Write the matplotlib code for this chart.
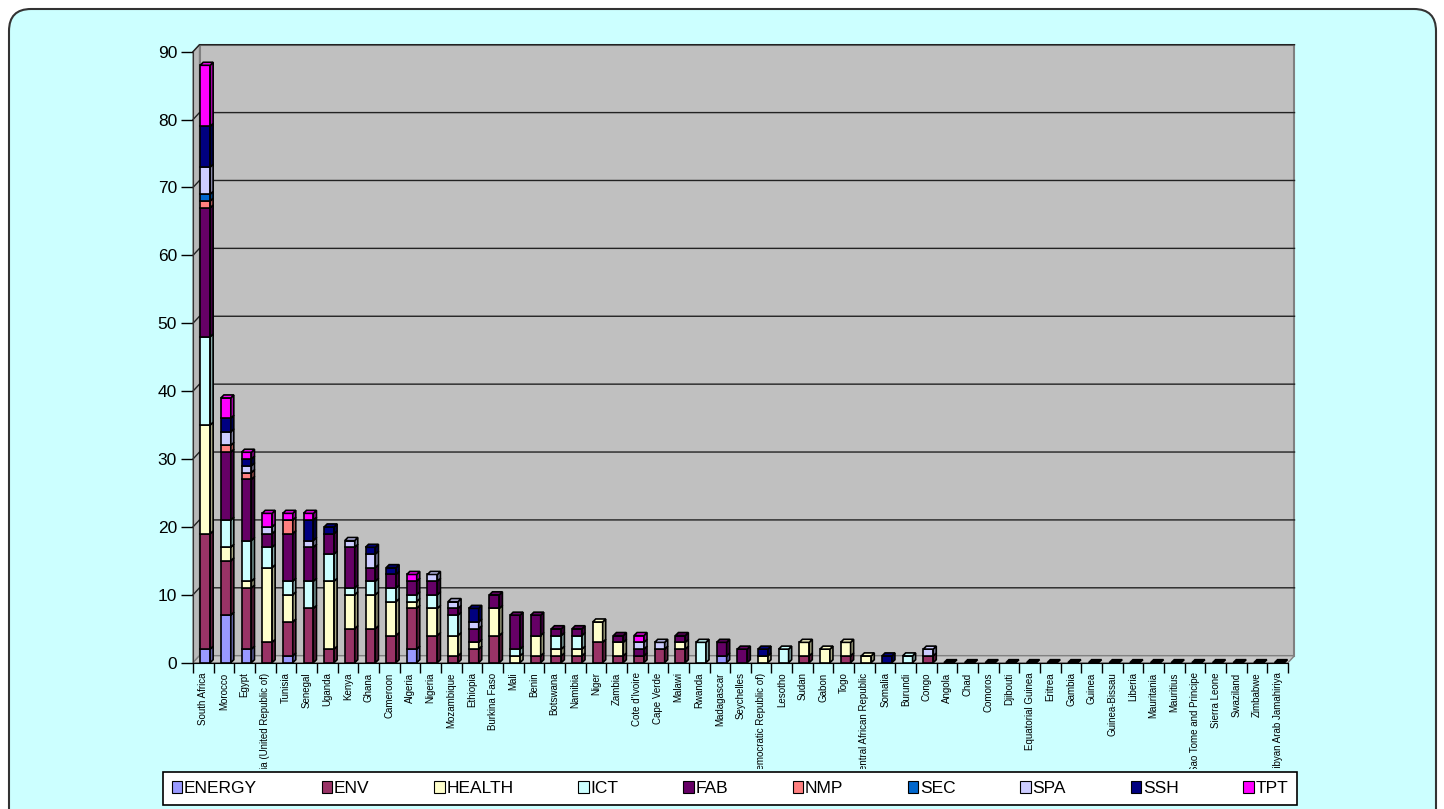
import numpy as np
import matplotlib
matplotlib.use("Agg")
import matplotlib.pyplot as plt
from matplotlib.patches import Polygon, FancyBboxPatch, Patch
from matplotlib.transforms import Bbox
import matplotlib.colors as mcolors

plt.rcParams['font.family'] = ['Liberation Sans', 'DejaVu Sans']

countries = [
    "South Africa", "Morocco", "Egypt", "Tanzania (United Republic of)", "Tunisia",
    "Senegal", "Uganda", "Kenya", "Ghana", "Cameroon", "Algeria", "Nigeria",
    "Mozambique", "Ethiopia", "Burkina Faso", "Mali", "Benin", "Botswana",
    "Namibia", "Niger", "Zambia", "Cote d'Ivoire", "Cape Verde", "Malawi",
    "Rwanda", "Madagascar", "Seychelles", "Congo (Democratic Republic of)",
    "Lesotho", "Sudan", "Gabon", "Togo", "Central African Republic", "Somalia",
    "Burundi", "Congo", "Angola", "Chad", "Comoros", "Djibouti",
    "Equatorial Guinea", "Eritrea", "Gambia", "Guinea", "Guinea-Bissau",
    "Liberia", "Mauritania", "Mauritius", "Sao Tome and Principe",
    "Sierra Leone", "Swaziland", "Zimbabwe", "Libyan Arab Jamahiriya",
]

z17 = [0] * 17
energy = [2, 7, 2, 0, 1, 0, 0, 0, 0, 0, 2, 0, 0, 0, 0, 0, 0, 0, 0, 0, 0, 0, 0, 0,
          0, 1, 0, 0, 0, 0, 0, 0, 0, 0, 0, 0] + z17
env = [17, 8, 9, 3, 5, 8, 2, 5, 5, 4, 6, 4, 1, 2, 4, 0, 1, 1, 1, 3, 1, 1, 2, 2,
       0, 0, 0, 0, 0, 1, 0, 1, 0, 0, 0, 1] + z17
health = [16, 2, 1, 11, 4, 0, 10, 5, 5, 5, 1, 4, 3, 1, 4, 1, 3, 1, 1, 3, 2, 0, 0, 1,
          0, 0, 0, 1, 0, 2, 2, 2, 1, 0, 0, 0] + z17
ict = [13, 4, 6, 3, 2, 4, 4, 1, 2, 2, 1, 2, 3, 0, 0, 1, 0, 2, 2, 0, 0, 0, 0, 0,
       3, 0, 0, 0, 2, 0, 0, 0, 0, 0, 1, 0] + z17
fab = [19, 10, 9, 2, 7, 5, 3, 6, 2, 2, 2, 2, 1, 2, 2, 5, 3, 1, 1, 0, 1, 1, 0, 1,
       0, 2, 2, 0, 0, 0, 0, 0, 0, 0, 0, 0] + z17
nmp = [1, 1, 1, 0, 2, 0, 0, 0, 0, 0, 0, 0, 0, 0, 0, 0, 0, 0, 0, 0, 0, 0, 0, 0,
       0, 0, 0, 0, 0, 0, 0, 0, 0, 0, 0, 0] + z17
sec = [1, 0, 0, 0, 0, 0, 0, 0, 0, 0, 0, 0, 0, 0, 0, 0, 0, 0, 0, 0, 0, 0, 0, 0,
       0, 0, 0, 0, 0, 0, 0, 0, 0, 0, 0, 0] + z17
spa = [4, 2, 1, 1, 0, 1, 0, 1, 2, 0, 0, 1, 1, 1, 0, 0, 0, 0, 0, 0, 0, 1, 1, 0,
       0, 0, 0, 0, 0, 0, 0, 0, 0, 0, 0, 1] + z17
ssh = [6, 2, 1, 0, 0, 3, 1, 0, 1, 1, 0, 0, 0, 2, 0, 0, 0, 0, 0, 0, 0, 0, 0, 0,
       0, 0, 0, 1, 0, 0, 0, 0, 0, 1, 0, 0] + z17
tpt = [9, 3, 1, 2, 1, 1, 0, 0, 0, 0, 1, 0, 0, 0, 0, 0, 0, 0, 0, 0, 0, 1, 0, 0,
       0, 0, 0, 0, 0, 0, 0, 0, 0, 0, 0, 0] + z17

series_names = ["ENERGY", "ENV", "HEALTH", "ICT", "FAB", "NMP", "SEC", "SPA", "SSH", "TPT"]
series_values = [energy, env, health, ict, fab, nmp, sec, spa, ssh, tpt]
series_colors = ["#9999FF", "#993366", "#FFFFCC", "#CCFFFF", "#660066",
                 "#FF8080", "#0066CC", "#CCCCFF", "#000080", "#FF00FF"]

W, H = 1444, 809
fig = plt.figure(figsize=(W / 100, H / 100), dpi=100)
fig.patch.set_facecolor("white")

# rounded frame (inches)
frame = FancyBboxPatch((0.09, -0.4), 14.27, 8.4,
                       boxstyle="round,pad=0,rounding_size=0.22",
                       transform=fig.dpi_scale_trans, facecolor="#CCFFFF",
                       edgecolor="#333333", linewidth=1.5, zorder=-1)
fig.patches.append(frame)

n = len(countries)
ymax = 90
ax = fig.add_axes([193 / W, (H - 662.7) / H, 1095 / W, 611 / H])
ax.set_zorder(2)
ax.set_xlim(0, n)
ax.set_ylim(0, ymax)
ax.patch.set_visible(False)

# 3D depth of the walls and of the bars, in data units
px_x = 1095 / n
px_y = 611 / ymax
wdx, wdy = 6.5 / px_x, 7 / px_y
bdx, bdy = 3 / px_x, 3 / px_y

wall = "#C0C0C0"
ax.add_patch(Polygon([(wdx, wdy), (n + wdx, wdy), (n + wdx, ymax + wdy), (wdx, ymax + wdy)],
                     closed=True, facecolor=wall, edgecolor="#808080", lw=1.5,
                     clip_on=False, zorder=1))
ax.add_patch(Polygon([(0, 0), (wdx, wdy), (wdx, ymax + wdy), (0, ymax)],
                     closed=True, facecolor="#B8B8B8", edgecolor="#808080", lw=1,
                     clip_on=False, zorder=1))
ax.add_patch(Polygon([(0, 0), (n, 0), (n + wdx, wdy), (wdx, wdy)],
                     closed=True, facecolor="#C8C8C8", edgecolor="#808080", lw=1,
                     clip_on=False, zorder=1))

for v in range(10, ymax + 1, 10):
    ax.plot([0, wdx, n + wdx], [v, v + wdy, v + wdy], color="#222222", lw=1,
            clip_on=False, zorder=2)


def shade(c, f):
    r, g, b = mcolors.to_rgb(c)
    return (r * f, g * f, b * f)


x = np.arange(n)
x0 = x + 0.35
bw = 0.48
bottom = np.zeros(n)
for name, vals, col in zip(series_names, series_values, series_colors):
    vals = np.array(vals, dtype=float)
    ax.bar(x0, vals, width=bw, bottom=bottom, align="edge", color=col,
           edgecolor="black", linewidth=1.2, zorder=3, label=name)
    for i in range(n):
        if vals[i] > 0:
            b, t = bottom[i], bottom[i] + vals[i]
            xr = x0[i] + bw
            ax.add_patch(Polygon([(xr, b), (xr + bdx, b + bdy), (xr + bdx, t + bdy), (xr, t)],
                                 closed=True, facecolor=shade(col, 0.65),
                                 edgecolor="black", lw=1.2, zorder=3, clip_on=False))
    bottom += vals

# top faces (flat black boxes for the empty countries)
totals = bottom
for i in range(n):
    t = totals[i]
    top_col = "black"
    for vals, col in zip(series_values, series_colors):
        if vals[i] > 0:
            top_col = col
    ax.add_patch(Polygon([(x0[i], t), (x0[i] + bdx, t + bdy), (x0[i] + bw + bdx, t + bdy),
                          (x0[i] + bw, t)], closed=True, facecolor=top_col,
                         edgecolor="black", lw=1.2, zorder=4, clip_on=False))

for s in ["top", "right"]:
    ax.spines[s].set_visible(False)
ax.spines["left"].set_color("#333333")
ax.spines["bottom"].set_color("black")
ax.spines["bottom"].set_zorder(5)

ax.set_yticks(range(0, ymax + 1, 10))
ax.tick_params(axis="y", length=8.5, width=1, labelsize=12.5, pad=3, colors="black")
ax.set_xticks(x + 0.5)
ax.set_xticklabels(countries, rotation=90, fontsize=7, va="top", ha="center")
ax.set_xticks(np.arange(n + 1), minor=True)
ax.tick_params(axis="x", which="major", length=0, pad=7)
ax.tick_params(axis="x", which="minor", length=7, width=1)

clip = Bbox.from_extents(0, H - 769, W, H)
for lab in ax.get_xticklabels():
    lab.set_clip_box(clip)
    lab.set_clip_on(True)

handles = [Patch(facecolor=c, edgecolor="black", linewidth=0.8) for c in series_colors]
leg = fig.legend(handles, series_names, ncol=10, mode="expand", loc="center",
                 bbox_to_anchor=(163 / W, 3 / H, 1134 / W, 35 / H),
                 fontsize=12.5, frameon=True, fancybox=False, framealpha=1,
                 handlelength=0.6, handleheight=0.7, handletextpad=0.1,
                 borderaxespad=0, borderpad=0.5)
leg.get_frame().set_edgecolor("black")
leg.get_frame().set_linewidth(1.2)
leg.get_frame().set_facecolor("white")

fig.savefig("out.png", dpi=100)
